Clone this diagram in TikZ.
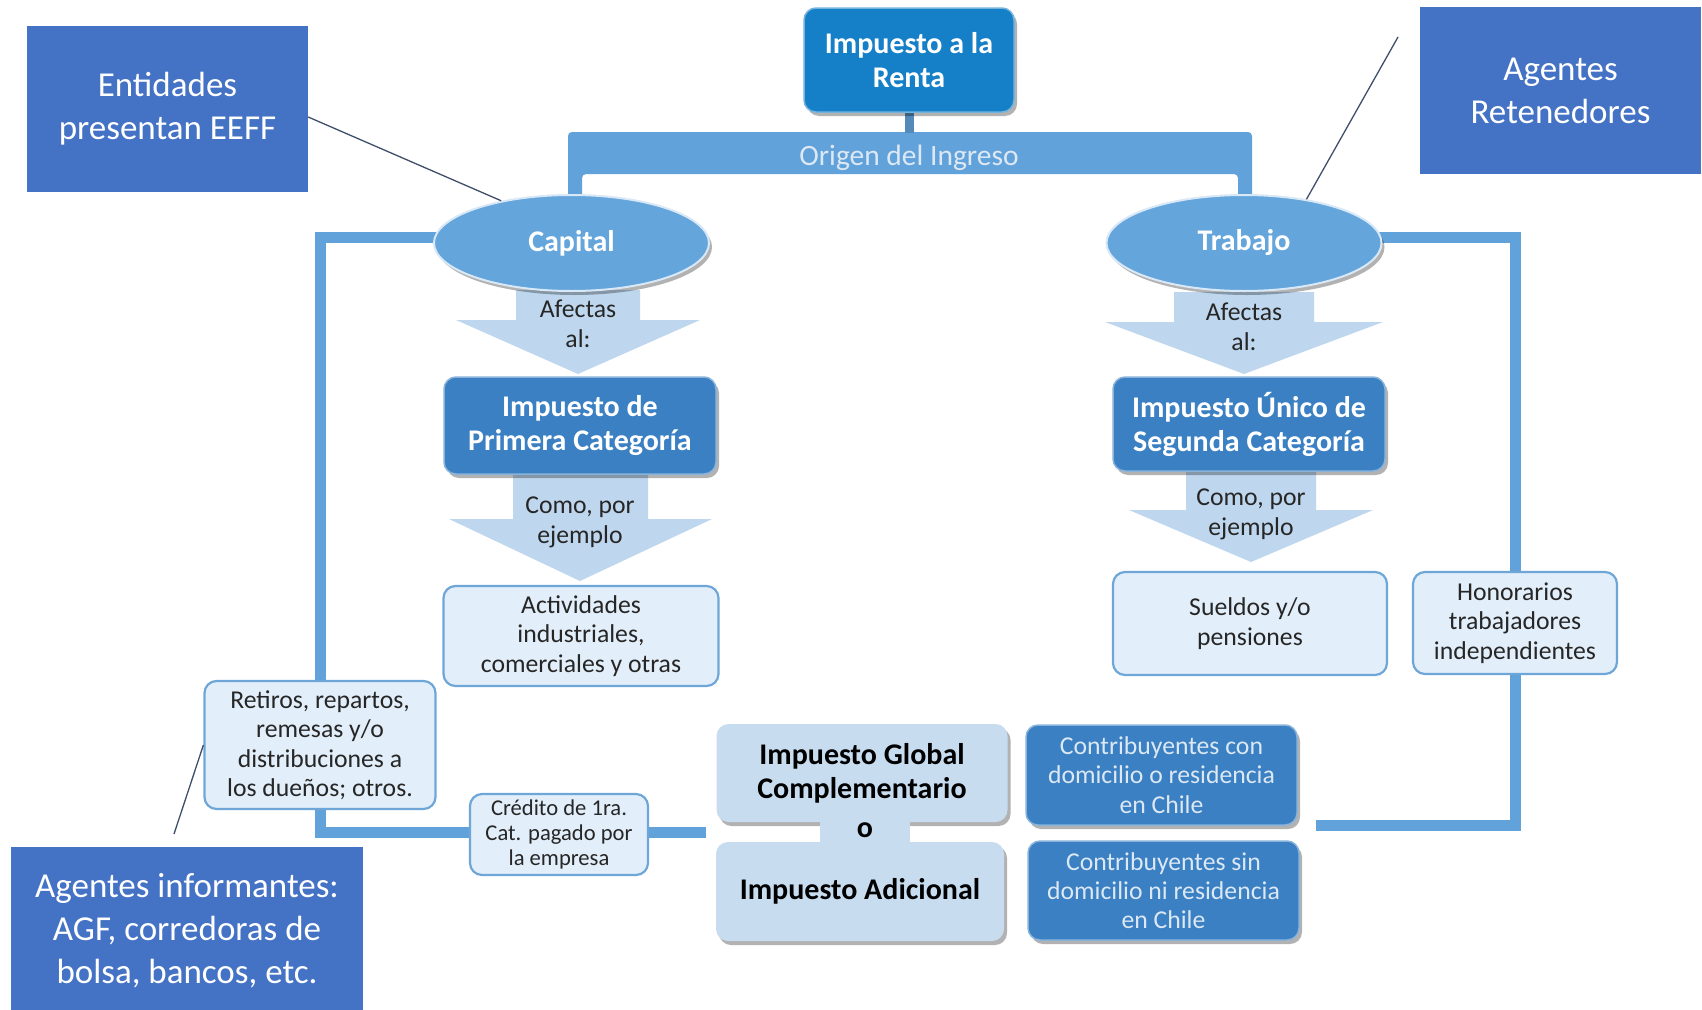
\documentclass[tikz,border=0pt]{standalone}
\usepackage{fontspec}
\setmainfont{Carlito}
\usetikzlibrary{shapes.geometric,shadows}
\pgfdeclarelayer{bg}
\pgfsetlayers{bg,main}
\definecolor{annotc}{HTML}{4472C4}
\definecolor{topc}{HTML}{1580C8}
\definecolor{bandc}{HTML}{62A2DA}
\definecolor{ellc}{HTML}{64A5DC}
\definecolor{darkc}{HTML}{3A80C3}
\definecolor{lightc}{HTML}{E2EEF9}
\definecolor{lightbd}{HTML}{6EA6D8}
\definecolor{midc}{HTML}{C8DCF0}
\definecolor{arrc}{HTML}{BFD7EE}
\definecolor{txtc}{HTML}{262626}
\definecolor{paletxt}{HTML}{DCE8F4}
\definecolor{leadc}{HTML}{3F4F6A}
\begin{document}
\begin{tikzpicture}[x=1pt,y=-1pt,
  shad/.style={drop shadow={shadow xshift=3pt,shadow yshift=-4pt,opacity=0.3,fill=black}},
  annot/.style={fill=annotc,text=white,font=\fontsize{35}{43}\selectfont,align=center,inner sep=0pt},
  topbox/.style={rounded corners=12pt,fill=topc,draw=topc!60!white,line width=1.5pt,text=white,
    font=\bfseries\fontsize{30}{34}\selectfont,align=center,inner sep=0pt,shad},
  ell/.style={ellipse,minimum width=275pt,minimum height=96pt,fill=ellc,draw=white!75!ellc,line width=2pt,
    text=white,font=\bfseries\fontsize{30}{32}\selectfont,inner sep=0pt,shad},
  darkbox/.style={rounded corners=12pt,fill=darkc,draw=darkc!60!white,line width=1.5pt,text=white,
    font=\bfseries\fontsize{30}{34}\selectfont,align=center,inner sep=0pt,shad},
  contrib/.style={rounded corners=12pt,fill=darkc,draw=darkc!60!white,line width=1.5pt,text=paletxt,
    font=\fontsize{25.7}{29.3}\selectfont,align=center,inner sep=0pt,shad},
  lightbox/.style={rounded corners=12pt,fill=lightc,draw=lightbd,line width=2.2pt,text=txtc,
    font=\fontsize{25.7}{29.5}\selectfont,align=center,inner sep=0pt},
  midbox/.style={rounded corners=12pt,fill=midc,text=black,
    font=\bfseries\fontsize{30}{34}\selectfont,align=center,inner sep=0pt,shad},
  arrtxt/.style={text=txtc,font=\fontsize{25.7}{30}\selectfont,align=center,inner sep=0pt},
  loopline/.style={draw=bandc,line width=11pt},
  leader/.style={draw=leadc,line width=1.3pt}
]
\useasboundingbox (0,0) rectangle (1702,1009);

% main nodes
\node[topbox,minimum width=210pt,minimum height=104pt] (renta) at (909,60) {Impuesto a la\\Renta};
\node[ell] (cap) at (571.5,243) {Capital};
\node[ell] (trab) at (1244,243) {Trabajo};
\node[darkbox,minimum width=272pt,minimum height=97pt] (prim) at (580,425.5)
  {Impuesto de\\Primera Categoría};
\node[darkbox,minimum width=272pt,minimum height=94pt] (seg) at (1249,424)
  {Impuesto Único de\\Segunda Categoría};
\node[lightbox,minimum width=275pt,minimum height=100pt] (act) at (581,636)
  {Actividades\\industriales,\\comerciales y otras};
\node[lightbox,minimum width=274pt,minimum height=103pt] (sue) at (1250,623.5)
  {Sueldos y/o\\pensiones};
\node[lightbox,minimum width=204pt,minimum height=102pt] (hon) at (1515,623)
  {Honorarios\\trabajadores\\independientes};
\node[lightbox,minimum width=231pt,minimum height=128pt] (ret) at (320,745)
  {Retiros, repartos,\\remesas y/o\\distribuciones a\\los dueños; otros.};
\node[lightbox,minimum width=178pt,minimum height=81pt,font=\fontsize{22.6}{25}\selectfont] (cred) at (559,834.5)
  {Crédito de 1ra.\\Cat. pagado por\\la empresa};
\node[midbox,minimum width=291pt,minimum height=98pt] (glob) at (862,773)
  {Impuesto Global\\Complementario};
\node[midbox,minimum width=288pt,minimum height=99pt] (adic) at (860,891.5)
  {Impuesto Adicional};
\fill[midc] (820,818) rectangle (910,846);
\node[font=\bfseries\fontsize{30}{30}\selectfont,inner sep=0pt] (o) at (865,830) {o};
\node[contrib,minimum width=271pt,minimum height=100pt] (con) at (1161.5,775)
  {Contribuyentes con\\domicilio o residencia\\en Chile};
\node[contrib,minimum width=271pt,minimum height=99pt] (sin) at (1163.5,890.5)
  {Contribuyentes sin\\domicilio ni residencia\\en Chile};

% annotation boxes
\node[annot,minimum width=281pt,minimum height=166pt] (ent) at (167.5,109) {Entidades\\presentan EEFF};
\node[annot,minimum width=281pt,minimum height=167pt] (rtn) at (1560.5,90.5) {Agentes\\Retenedores};
\node[annot,minimum width=352pt,minimum height=164pt,anchor=north] (inf) at (187,847) {};
\node[annot] (inftxt) at (187,930.5) {Agentes informantes:\\AGF, corredoras de\\bolsa, bancos, etc.};

% leaders
\coordinate (rtnend) at (1398,37);
\coordinate (infend) at (174,834);
\draw[leader] ([yshift=-8pt]ent.east) -- (cap.149);
\draw[leader] (rtnend) -- (trab.35);
\draw[leader] (infend) -- (ret.west);

\begin{pgfonlayer}{bg}
  \fill[white] (0,0) rectangle (1702,1009);
  % origin band
  \fill[bandc,rounded corners=4pt] (568,205) -- (568,132) -- (1252,132) -- (1252,205) -- (1238,205)
    -- (1238,174) -- (582,174) -- (582,205) -- cycle;
  \node[text=paletxt,font=\fontsize{29.5}{32}\selectfont,inner sep=0pt] (origen) at (909,158) {Origen del Ingreso};
  \draw[draw=bandc!85!black,line width=9pt] (renta.south) -- (renta.south |- 0,133);
  % loop lines
  \path (0,237) coordinate (ltop) (0,832) coordinate (lbot) (0,825) coordinate (rbot);
  \draw[loopline] (cap.center |- ltop) -| (ret.center) |- ([xshift=-10pt]glob.west |- lbot);
  \draw[loopline] (trab.center |- ltop) -| (hon.center) |- ([xshift=18pt]con.east |- rbot);
  % block arrows
  \fill[arrc] (516,290) -- (640,290) -- (640,320) -- (700,320) -- (578,374) -- (456,320) -- (516,320) -- cycle;
  \fill[arrc] (1174,292) -- (1314,292) -- (1314,322) -- (1383,322) -- (1244,374) -- (1105,322) -- (1174,322) -- cycle;
  \fill[arrc] (513,474) -- (648,474) -- (648,519) -- (712,519) -- (580,581) -- (449,519) -- (513,519) -- cycle;
  \fill[arrc] (1186,471) -- (1316,471) -- (1316,510) -- (1373,510) -- (1251,562) -- (1129,510) -- (1186,510) -- cycle;
\end{pgfonlayer}
\node[arrtxt] (af1) at (578,323.5) {Afectas\\al:};
\node[arrtxt] (af2) at (1244,326.5) {Afectas\\al:};
\node[arrtxt] (co1) at (580,522.5) {Como, por\\ejemplo};
\node[arrtxt] (co2) at (1251,514) {Como, por\\ejemplo};
\end{tikzpicture}
\end{document}
